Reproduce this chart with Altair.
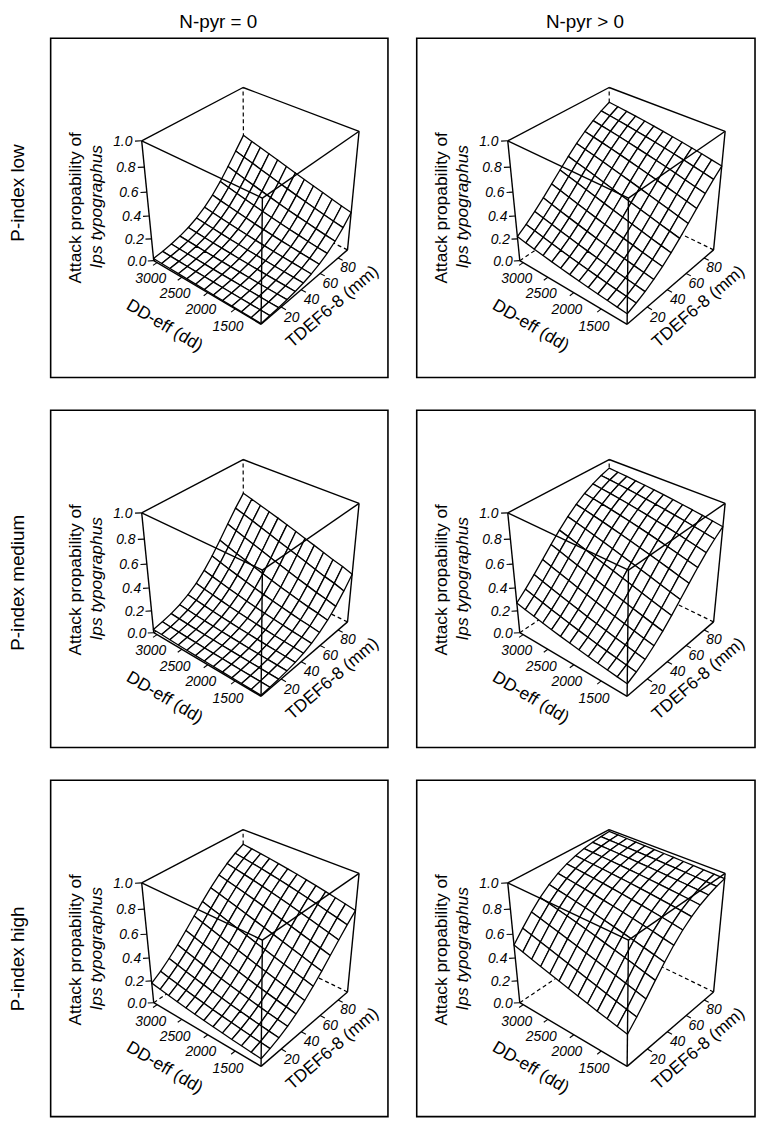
import math
import pandas as pd
import altair as alt

FONT = "Liberation Sans"

ROW_LABELS = ["P-index low", "P-index medium", "P-index high"]
COL_LABELS = ["N-pyr = 0", "N-pyr > 0"]

DD_LIM = [1050, 3070]
T_LIM = [1, 91]
DD_TICKS = [1500, 2000, 2500, 3000]
T_TICKS = [20, 40, 60, 80]
Z_TICKS = [0.0, 0.2, 0.4, 0.6, 0.8, 1.0]

# Attack probability read along the TDEF6-8 edge (min -> max) at the lowest DD-eff
P_ALONG_T = {
    (0, 0): [0.0070, 0.0103, 0.0152, 0.0222, 0.0325, 0.0472, 0.0683, 0.0977, 0.1378, 0.1910, 0.2587, 0.3400],
    (0, 1): [0.0940, 0.1225, 0.1580, 0.2016, 0.2535, 0.3135, 0.3805, 0.4524, 0.5263, 0.5991, 0.6678, 0.7300],
    (1, 0): [0.0090, 0.0134, 0.0199, 0.0294, 0.0433, 0.0634, 0.0919, 0.1314, 0.1843, 0.2525, 0.3355, 0.4300],
    (1, 1): [0.1120, 0.1488, 0.1949, 0.2512, 0.3173, 0.3917, 0.4715, 0.5528, 0.6314, 0.7035, 0.7668, 0.8200],
    (2, 0): [0.0680, 0.0913, 0.1214, 0.1598, 0.2075, 0.2648, 0.3315, 0.4056, 0.4843, 0.5638, 0.6402, 0.7100],
    (2, 1): [0.2800, 0.3613, 0.4514, 0.5448, 0.6352, 0.7169, 0.7865, 0.8427, 0.8863, 0.9190, 0.9428, 0.9600],
}
# Attack probability read along the DD-eff edge (min -> max) at the lowest TDEF6-8
P_ALONG_DD = {
    (0, 0): [0.0070, 0.0076, 0.0083, 0.0091, 0.0099, 0.0108, 0.0118, 0.0129, 0.0141, 0.0154, 0.0168, 0.0183, 0.0200],
    (0, 1): [0.0940, 0.1013, 0.1092, 0.1176, 0.1265, 0.1360, 0.1461, 0.1568, 0.1681, 0.1801, 0.1927, 0.2060, 0.2200],
    (1, 0): [0.0090, 0.0101, 0.0110, 0.0122, 0.0135, 0.0149, 0.0165, 0.0182, 0.0202, 0.0223, 0.0246, 0.0272, 0.0300],
    (1, 1): [0.1120, 0.1212, 0.1311, 0.1417, 0.1529, 0.1649, 0.1776, 0.1911, 0.2053, 0.2204, 0.2361, 0.2527, 0.2700],
    (2, 0): [0.0680, 0.0741, 0.0806, 0.0877, 0.0953, 0.1035, 0.1123, 0.1218, 0.1320, 0.1429, 0.1545, 0.1669, 0.1800],
    (2, 1): [0.2800, 0.2968, 0.3142, 0.3322, 0.3506, 0.3695, 0.3888, 0.4085, 0.4284, 0.4486, 0.4690, 0.4895, 0.5100],
}

# ---- figure layout (plot-area pixels; page = +8) ----
FIG_W, FIG_H = 755, 1114
PANEL_X = [43, 412]
PANEL_Y = [26, 401, 774]
PANEL_W = [340, 341]
PANEL_H = [342, 340, 339]
COL_TITLE_Y = 10
ROW_LABEL_X = 10
ROW_LABEL_DY = [156, 174, 180]

# ---- view (camera) settings, like persp(theta, phi, d) ----
AZIM = 40.0
ELEV = 35.0
DIST = 10.0
SX, SY = 73.3, 73.1
CX, CY = 202.5, 162.1

SB, CB = math.sin(math.radians(AZIM)), math.cos(math.radians(AZIM))
SP, CP = math.sin(math.radians(ELEV)), math.cos(math.radians(ELEV))


def project(u, v, w, ox=0.0, oy=0.0):
    h = SB * u + CB * v
    X = -CB * u + SB * v
    Y = SP * h + CP * w
    D = CP * h - SP * w
    f = DIST / (DIST + D)
    return ox + CX + SX * X * f, oy + CY - SY * Y * f, D


def logit(p):
    return math.log(p / (1 - p))


def expit(x):
    return 1 / (1 + math.exp(-x))


def dd_u(d):
    return 2 * (d - DD_LIM[0]) / (DD_LIM[1] - DD_LIM[0]) - 1


def t_v(t):
    return 2 * (t - T_LIM[0]) / (T_LIM[1] - T_LIM[0]) - 1


BACK_DASHED = [((1, 1, -1), (1, 1, 1)), ((1, -1, -1), (1, 1, -1)), ((-1, 1, -1), (1, 1, -1))]
BACK_SOLID = [((1, -1, 1), (1, 1, 1)), ((-1, 1, 1), (1, 1, 1))]
FRONT = [((1, -1, -1), (1, -1, 1)), ((-1, 1, -1), (-1, 1, 1)), ((-1, -1, -1), (-1, -1, 1)),
         ((1, -1, 1), (-1, -1, 1)), ((-1, 1, 1), (-1, -1, 1)),
         ((1, -1, -1), (-1, -1, -1)), ((-1, 1, -1), (-1, -1, -1))]
TICK = 0.08

surf_rows, dash_rows, back_rows, front_rows, tick_rows = [], [], [], [], []
ticklab_rows, ddt_rows, tt_rows, z1_rows, z2_rows = [], [], [], [], []
frame_rows, coltitle_rows, rowlab_rows = [], [], []


def add_segs(target, segs, ox, oy):
    for a, b in segs:
        x1, y1, _ = project(*a, ox=ox, oy=oy)
        x2, y2, _ = project(*b, ox=ox, oy=oy)
        target.append({"x": x1, "y": y1, "x2": x2, "y2": y2})


for r in range(3):
    for c in range(2):
        ox, oy = PANEL_X[c], PANEL_Y[r]
        pid = r * 2 + c
        frame_rows.append({"x": ox, "y": oy, "x2": ox + PANEL_W[c], "y2": oy + PANEL_H[r]})

        # surface facets, drawn far to near
        A, B = P_ALONG_T[(r, c)], P_ALONG_DD[(r, c)]
        nu, nv = len(B), len(A)
        base = logit(A[0])
        P = [[expit(logit(B[i]) + logit(A[j]) - base) for j in range(nv)] for i in range(nu)]
        us = [-1 + 2 * i / (nu - 1) for i in range(nu)]
        vs = [-1 + 2 * j / (nv - 1) for j in range(nv)]
        cells = []
        for i in range(nu - 1):
            for j in range(nv - 1):
                corners = [(i, j), (i + 1, j), (i + 1, j + 1), (i, j + 1)]
                pts = [project(us[a], vs[b], 2 * P[a][b] - 1, ox, oy) for a, b in corners]
                cells.append((sum(p[2] for p in pts) / 4, pts))
        cells.sort(key=lambda cc: -cc[0])
        for n, (_, pts) in enumerate(cells):
            for k, (x, y, _) in enumerate(pts + [pts[0]]):
                surf_rows.append({"poly": f"p{pid}_{n:04d}", "k": k, "x": x, "y": y})

        add_segs(dash_rows, BACK_DASHED, ox, oy)
        add_segs(back_rows, BACK_SOLID, ox, oy)
        add_segs(front_rows, FRONT, ox, oy)

        segs = []
        for d in DD_TICKS:
            u = dd_u(d)
            segs.append(((u, -1, -1), (u, -1 - TICK, -1)))
            x, y, _ = project(u, -1.15, -1.22, ox, oy)
            ticklab_rows.append({"x": x, "y": y, "t": str(d)})
        for t in T_TICKS:
            v = t_v(t)
            segs.append(((-1, v, -1), (-1 - TICK, v, -1)))
            x, y, _ = project(-1.18, v, -1.09, ox, oy)
            ticklab_rows.append({"x": x, "y": y, "t": str(t)})
        for z in Z_TICKS:
            w = 2 * z - 1
            segs.append(((1, -1, w), (1.06, -1.06, w)))
            x, y, _ = project(1.17, -1.17, w, ox, oy)
            ticklab_rows.append({"x": x, "y": y, "t": f"{z:.1f}"})
        add_segs(tick_rows, segs, ox, oy)

        x, y, _ = project(0, -1.77, -1.08, ox, oy)
        ddt_rows.append({"x": x, "y": y, "t": "DD-eff (dd)"})
        x, y, _ = project(-1.44, 0, -1.15, ox, oy)
        tt_rows.append({"x": x, "y": y, "t": "TDEF6-8 (mm)"})
        x, y, _ = project(1.68, -1.68, 0, ox, oy)
        z1_rows.append({"x": x, "y": y, "t": "Attack propability of"})
        x, y, _ = project(1.485, -1.485, 0, ox, oy)
        z2_rows.append({"x": x, "y": y, "t": "Ips typographus"})

for c in range(2):
    coltitle_rows.append({"x": PANEL_X[c] + PANEL_W[c] / 2 - 1, "y": COL_TITLE_Y, "t": COL_LABELS[c]})
for r in range(3):
    rowlab_rows.append({"x": ROW_LABEL_X, "y": PANEL_Y[r] + ROW_LABEL_DY[r], "t": ROW_LABELS[r]})

xl, yl, _ = project(1, -1, -1)
xf, yf, _ = project(-1, -1, -1)
xr, yr, _ = project(-1, 1, -1)
DD_ANGLE = math.degrees(math.atan2(yf - yl, xf - xl)) % 360
T_ANGLE = math.degrees(math.atan2(yr - yf, xr - xf)) % 360

XENC = alt.X("x:Q", scale=alt.Scale(domain=[0, FIG_W], nice=False, zero=False), axis=None)
YENC = alt.Y("y:Q", scale=alt.Scale(domain=[0, FIG_H], nice=False, zero=False, reverse=True), axis=None)


def rules(rows, **kw):
    return alt.Chart(pd.DataFrame(rows)).mark_rule(color="black", **kw).encode(
        x=XENC, y=YENC, x2="x2:Q", y2="y2:Q")


def texts(rows, **kw):
    return alt.Chart(pd.DataFrame(rows)).mark_text(color="black", font=FONT, align="center",
                                                   baseline="middle", **kw).encode(
        x=XENC, y=YENC, text="t:N")


frames = alt.Chart(pd.DataFrame(frame_rows)).mark_rect(
    filled=False, stroke="black", strokeWidth=1.6).encode(x=XENC, y=YENC, x2="x2:Q", y2="y2:Q")

surface = alt.Chart(pd.DataFrame(surf_rows)).mark_line(
    fill="white", stroke="black", strokeWidth=1.3, strokeJoin="round").encode(
    x=XENC, y=YENC, detail="poly:N", order="k:Q")

chart = alt.layer(
    frames,
    rules(dash_rows, strokeWidth=1.2, strokeDash=[4, 3]),
    rules(back_rows, strokeWidth=1.4),
    surface,
    rules(front_rows, strokeWidth=1.4),
    rules(tick_rows, strokeWidth=1.1),
    texts(ticklab_rows, fontSize=14, fontStyle="italic"),
    texts(ddt_rows, fontSize=17.5, angle=DD_ANGLE),
    texts(tt_rows, fontSize=17.5, angle=T_ANGLE),
    texts(z1_rows, fontSize=17.5, angle=270),
    texts(z2_rows, fontSize=17.5, angle=270, fontStyle="italic"),
    texts(coltitle_rows, fontSize=19),
    texts(rowlab_rows, fontSize=19, angle=270),
).properties(
    width=FIG_W, height=FIG_H,
    padding={"left": 0, "top": 0, "right": 0, "bottom": 0},
    autosize=alt.AutoSizeParams(type="none"),
).configure(background="white").configure_view(strokeWidth=0)

chart.save("out.html", embed_options={"renderer": "svg", "actions": False})
